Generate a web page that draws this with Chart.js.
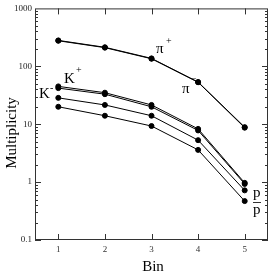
<!DOCTYPE html>
<html>
<head>
<meta charset="utf-8">
<script src="https://cdn.jsdelivr.net/npm/chart.js@4"></script>
<style>
  html, body { margin: 0; padding: 0; background: #fff; }
  #wrap { width: 273px; height: 274px; }
</style>
</head>
<body>
<div id="wrap"><canvas id="chart" width="273" height="274"></canvas></div>
<script>
const bins = [1, 2, 3, 4, 5];
const piPlus = [280, 213, 137, 53.5, 8.9];
const piMinus = [276, 210, 135, 53, 8.7];
const kPlus = [45, 35, 21.5, 8.3, 0.97];
const kMinus = [42, 33, 20, 7.8, 0.93];
const proton = [28.5, 21.5, 14, 5.3, 0.72];
const antiProton = [20, 14, 9.3, 3.6, 0.47];
const yTicks = [0.1, 1, 10, 100, 1000];

const serif = '"Liberation Serif", "DejaVu Serif", serif';

function series(values) {
    return {
        data: bins.map((b, i) => ({ x: b, y: values[i] })),
        borderColor: '#000',
        backgroundColor: '#000',
        borderWidth: 1,
        pointRadius: 2.5,
        pointStyle: 'circle',
        tension: 0
    };
}

// box, inward ticks and the text labels
const decor = {
    id: 'decor',
    afterDraw(chart) {
        const ctx = chart.ctx;
        const a = chart.chartArea;
        const xs = chart.scales.x, ys = chart.scales.y;
        ctx.save();
        ctx.strokeStyle = '#333';
        ctx.lineWidth = 1;
        ctx.strokeRect(a.left + 0.5, a.top + 0.5, a.right - a.left - 1, a.bottom - a.top - 1);

        ctx.beginPath();
        bins.forEach(b => {
            const px = Math.round(xs.getPixelForValue(b)) + 0.5;
            ctx.moveTo(px, a.bottom); ctx.lineTo(px, a.bottom - 6);
            ctx.moveTo(px, a.top); ctx.lineTo(px, a.top + 6);
        });
        for (let e = -1; e < 3; e++) {
            for (let m = 1; m < 10; m++) {
                const v = m * Math.pow(10, e);
                const py = Math.round(ys.getPixelForValue(v)) + 0.5;
                const len = m === 1 ? 6 : 3;
                ctx.moveTo(a.left, py); ctx.lineTo(a.left + len, py);
                ctx.moveTo(a.right, py); ctx.lineTo(a.right - len, py);
            }
        }
        ctx.stroke();

        ctx.fillStyle = '#000';
        ctx.font = '15px ' + serif;
        ctx.textAlign = 'left';
        ctx.textBaseline = 'alphabetic';
        ctx.fillText('\u03c0', 156, 53);
        ctx.fillText('\u03c0', 182, 93);
        ctx.fillText('K', 64, 83);
        ctx.fillText('K', 39, 98);
        ctx.fillText('p', 253, 197);
        ctx.fillText('p', 253, 214);
        ctx.font = '10px ' + serif;
        ctx.fillText('+', 166, 44);
        ctx.fillText('\u2212', 191, 82);
        ctx.fillText('+', 76, 73);
        ctx.fillText('-', 50, 91);
        ctx.beginPath();
        ctx.moveTo(253, 202.5); ctx.lineTo(261, 202.5);
        ctx.stroke();

        ctx.font = '15px ' + serif;
        ctx.textAlign = 'center';
        ctx.fillText('Bin', 153, 271);
        ctx.translate(16, 133);
        ctx.rotate(-Math.PI / 2);
        ctx.fillText('Multiplicity', 0, 0);
        ctx.restore();
    }
};

new Chart(document.getElementById('chart'), {
    type: 'line',
    data: {
        datasets: [piPlus, piMinus, kPlus, kMinus, proton, antiProton].map(series)
    },
    options: {
        responsive: false,
        animation: false,
        layout: { padding: { top: 4, right: 1, left: 0, bottom: 0 } },
        plugins: { legend: { display: false }, tooltip: { enabled: false } },
        scales: {
            x: {
                type: 'linear',
                min: 0.5,
                max: 5.5,
                grid: { display: false, drawTicks: false },
                border: { display: false },
                afterFit: s => { s.height = 34; },
                afterBuildTicks: s => { s.ticks = bins.map(v => ({ value: v })); },
                ticks: {
                    color: '#333',
                    padding: 4,
                    font: { family: serif, size: 9 },
                    callback: v => String(v)
                }
            },
            y: {
                type: 'logarithmic',
                min: 0.1,
                max: 1000,
                grid: { display: false, drawTicks: false },
                border: { display: false },
                afterFit: s => { s.width = 35; },
                afterBuildTicks: s => { s.ticks = yTicks.map(v => ({ value: v })); },
                ticks: {
                    color: '#222',
                    padding: 3,
                    font: { family: serif, size: 9 },
                    callback: v => String(v)
                }
            }
        }
    },
    plugins: [decor]
});
</script>
</body>
</html>
